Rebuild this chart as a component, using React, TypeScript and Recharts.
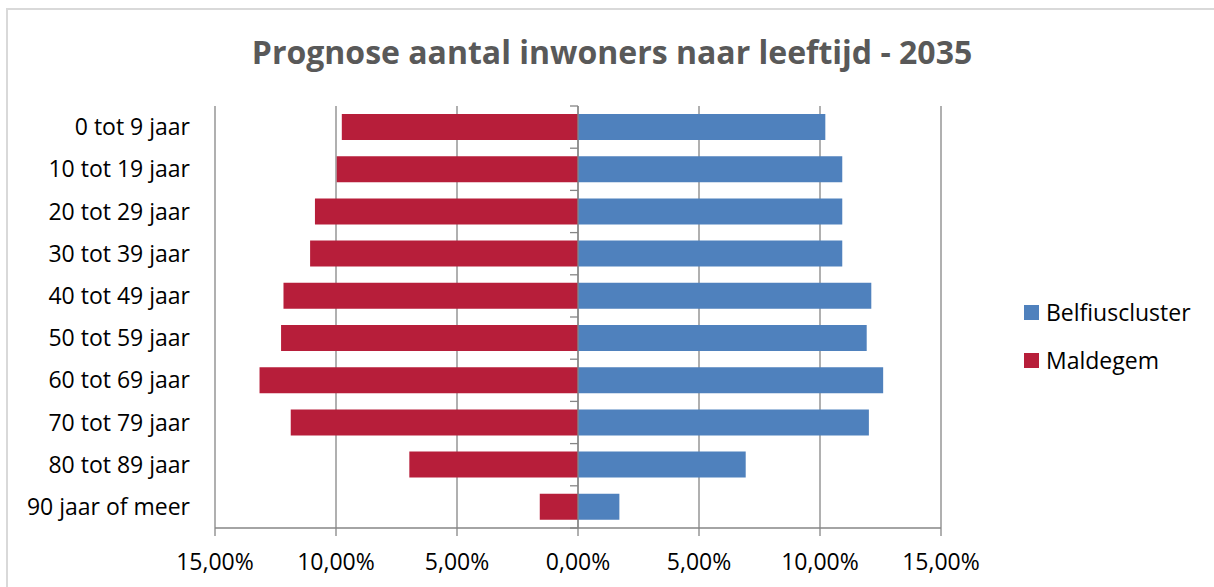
import React from "react";
import {
  BarChart,
  Bar,
  XAxis,
  YAxis,
  CartesianGrid,
  ReferenceLine,
} from "recharts";

const ageGroups = [
  "0 tot 9 jaar",
  "10 tot 19 jaar",
  "20 tot 29 jaar",
  "30 tot 39 jaar",
  "40 tot 49 jaar",
  "50 tot 59 jaar",
  "60 tot 69 jaar",
  "70 tot 79 jaar",
  "80 tot 89 jaar",
  "90 jaar of meer",
];

// percentages
const belfiusValues = [10.22, 10.92, 10.92, 10.92, 12.12, 11.93, 12.61, 12.02, 6.93, 1.71];
const maldegemValues = [9.76, 9.97, 10.87, 11.07, 12.17, 12.27, 13.16, 11.87, 6.97, 1.58];

const xTicks = [-15, -10, -5, 0, 5, 10, 15];

const series = [
  { key: "belfius", name: "Belfiuscluster", color: "#4F81BD" },
  { key: "maldegem", name: "Maldegem", color: "#B71E3A" },
];

const data = ageGroups.map((age, i) => ({
  age,
  belfius: belfiusValues[i],
  maldegem: -maldegemValues[i],
}));

const FONT = "'Open Sans', 'DejaVu Sans', sans-serif";
const AXIS_GRAY = "#868686";
const LABEL_SIZE = 23;

function formatPercent(v: number): string {
  return `${Math.abs(v).toFixed(2).replace(".", ",")}%`;
}

// vertical axis at zero with tick marks between the categories
function ZeroAxis(props: any) {
  const { x1, y1, x2, y2 } = props;
  const n = ageGroups.length;
  const marks = [];
  for (let i = 0; i <= n; i++) {
    const y = y1 + ((y2 - y1) * i) / n;
    marks.push(
      <line key={i} x1={x1 - 8} x2={x1} y1={y} y2={y} stroke={AXIS_GRAY} strokeWidth={1.3} />
    );
  }
  return (
    <g>
      <line x1={x1} y1={y1} x2={x2} y2={y2} stroke={AXIS_GRAY} strokeWidth={1.3} />
      {marks}
    </g>
  );
}

function LegendBox() {
  return (
    <div
      style={{
        position: "absolute",
        left: 1024,
        top: 288,
        fontFamily: FONT,
        fontSize: LABEL_SIZE,
        color: "#000",
      }}
    >
      {series.map((s) => (
        <div key={s.key} style={{ display: "flex", alignItems: "center", height: 48 }}>
          <span
            style={{
              display: "inline-block",
              width: 15,
              height: 15,
              background: s.color,
              marginRight: 7,
            }}
          />
          <span>{s.name}</span>
        </div>
      ))}
    </div>
  );
}

export default function App() {
  return (
    <div
      style={{
        position: "absolute",
        left: 0,
        top: 0,
        width: 1214,
        height: 587,
        background: "#fff",
        overflow: "hidden",
      }}
    >
      <div
        style={{
          position: "absolute",
          left: 6,
          top: 8,
          width: 1240,
          height: 640,
          borderLeft: "2px solid #d9d9d9",
          borderTop: "2px solid #d9d9d9",
        }}
      />
      <div
        style={{
          position: "absolute",
          left: 0,
          top: 30,
          width: 1224,
          textAlign: "center",
          fontFamily: FONT,
          fontWeight: 700,
          fontSize: 32,
          color: "#595959",
        }}
      >
        Prognose aantal inwoners naar leeftijd - 2035
      </div>
      <div style={{ position: "absolute", left: 0, top: 0 }}>
        <BarChart
          width={1214}
          height={587}
          data={data}
          layout="vertical"
          stackOffset="sign"
          margin={{ top: 106, right: 273, bottom: 9, left: 0 }}
        >
          <CartesianGrid horizontal={false} stroke={AXIS_GRAY} strokeWidth={1.3} />
          <XAxis
            type="number"
            domain={[-15, 15]}
            ticks={xTicks}
            tickFormatter={formatPercent}
            stroke={AXIS_GRAY}
            axisLine={{ stroke: AXIS_GRAY, strokeWidth: 1.3 }}
            tickLine={{ stroke: AXIS_GRAY, strokeWidth: 1.3 }}
            tickSize={8}
            tickMargin={18}
            height={50}
            tick={{ fill: "#000", fontSize: LABEL_SIZE, fontFamily: FONT }}
          />
          <YAxis
            type="category"
            dataKey="age"
            width={215}
            axisLine={false}
            tickLine={false}
            tickSize={0}
            tickMargin={25}
            tick={{ fill: "#000", fontSize: LABEL_SIZE, fontFamily: FONT }}
          />
          <Bar
            dataKey="maldegem"
            name="Maldegem"
            stackId="a"
            fill="#B71E3A"
            barSize={26}
            isAnimationActive={false}
          />
          <Bar
            dataKey="belfius"
            name="Belfiuscluster"
            stackId="a"
            fill="#4F81BD"
            barSize={26}
            isAnimationActive={false}
          />
          <ReferenceLine x={0} shape={ZeroAxis} />
        </BarChart>
      </div>
      <LegendBox />
    </div>
  );
}
